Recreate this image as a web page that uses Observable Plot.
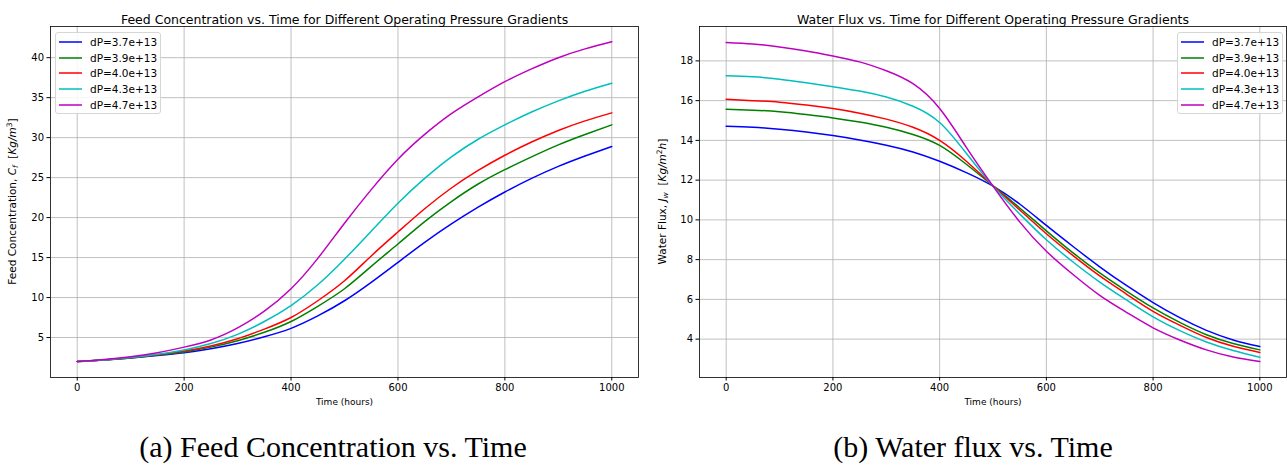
<!DOCTYPE html>
<html><head><meta charset="utf-8">
<script src="https://cdn.jsdelivr.net/npm/d3@7"></script>
<script src="https://cdn.jsdelivr.net/npm/@observablehq/plot@0.6"></script>
<style>
body{margin:0;background:#fff;width:1287px;height:468px;overflow:hidden;position:relative;font-family:"DejaVu Sans";}
#left{position:absolute;left:0;top:0}
#right{position:absolute;left:650px;top:0}
.cap{position:absolute;font-family:"Liberation Serif";font-size:30px;top:430px;transform:translateX(-50%);white-space:nowrap;color:#000}
.legend{position:absolute;border:1px solid #d6d6d6;border-radius:3px;background:rgba(255,255,255,0.85);box-sizing:border-box}
.row{position:absolute;left:0;height:14px;font-size:10.5px;line-height:14px;color:#000;white-space:nowrap}
.row svg{position:absolute;left:3px;top:0}
.row span{position:absolute;left:34px;top:0}
</style></head><body>
<div id="left"></div>
<div id="right"></div>
<div class="cap" style="left:333px">(a) Feed Concentration vs. Time</div>
<div class="cap" style="left:973px">(b) Water flux vs. Time</div>
<script>
// ---- data ----
const times = [0,50,100,150,200,250,300,350,400,450,500,550,600,650,700,750,800,850,900,950,1000];
const seriesLabels = ["dP=3.7e+13","dP=3.9e+13","dP=4.0e+13","dP=4.3e+13","dP=4.7e+13"];
const seriesColors = ["#0000ff","#008000","#ff0000","#00bfbf","#bf00bf"];

const feed37 = [2.0,2.2,2.45,2.75,3.1,3.6,4.25,5.1,6.15,7.7,9.6,11.9,14.4,16.9,19.2,21.3,23.2,24.9,26.4,27.7,28.9];
const feed39 = [2.0,2.2,2.45,2.8,3.2,3.8,4.6,5.65,7.0,8.9,11.1,13.9,16.7,19.5,22.0,24.2,26.0,27.6,29.1,30.4,31.6];
const feed40 = [2.0,2.2,2.5,2.85,3.3,3.95,4.85,6.05,7.5,9.6,12.1,15.2,18.2,21.1,23.7,25.9,27.8,29.45,30.9,32.1,33.1];
const feed43 = [2.0,2.2,2.5,2.9,3.45,4.25,5.4,7.0,9.0,11.6,14.8,18.3,21.8,24.9,27.6,29.8,31.6,33.2,34.6,35.8,36.8];
const feed47 = [2.0,2.25,2.6,3.1,3.8,4.7,6.2,8.3,11.1,14.9,19.3,23.5,27.3,30.4,33.0,35.1,37.0,38.6,40.0,41.1,42.0];

const flux37 = [14.71,14.66,14.56,14.42,14.24,14.02,13.76,13.42,12.95,12.38,11.7,10.8,9.72,8.66,7.64,6.7,5.84,5.08,4.44,3.96,3.63];
const flux39 = [15.57,15.52,15.44,15.3,15.13,14.92,14.66,14.3,13.75,12.8,11.72,10.6,9.45,8.34,7.33,6.42,5.57,4.84,4.22,3.78,3.46];
const flux40 = [16.07,16.0,15.92,15.78,15.6,15.37,15.07,14.66,14.0,12.95,11.72,10.5,9.3,8.2,7.18,6.27,5.4,4.7,4.08,3.64,3.33];
const flux43 = [17.25,17.2,17.08,16.9,16.7,16.48,16.18,15.72,14.9,13.35,11.7,10.3,9.0,7.88,6.87,5.97,5.12,4.43,3.86,3.43,3.09];
const flux47 = [18.93,18.85,18.7,18.5,18.25,17.95,17.5,16.85,15.6,13.65,11.7,9.9,8.42,7.25,6.2,5.35,4.57,3.96,3.46,3.1,2.87];

const xTicks = [0,200,400,600,800,1000];
const feedTicks = [5,10,15,20,25,30,35,40];
const fluxTicks = [4,6,8,10,12,14,16,18];

function tidy(arrs){
  const rows=[];
  arrs.forEach((a,k)=>a.forEach((v,i)=>rows.push({t:times[i],v,s:seriesLabels[k]})));
  return rows;
}
const feedRows = tidy([feed37,feed39,feed40,feed43,feed47]);
const fluxRows = tidy([flux37,flux39,flux40,flux43,flux47]);

function makePlot(rows, opts){
  return Plot.plot({
    width: opts.width, height: 410,
    marginLeft: opts.ml, marginRight: opts.mr, marginTop: 26, marginBottom: 33,
    style:{fontFamily:"DejaVu Sans", fontSize:"10px", color:"#000", background:"transparent"},
    x:{domain:[-50,1050]},
    y:{domain:opts.ydom},
    color:{domain:seriesLabels, range:seriesColors},
    marks:[
      Plot.gridX(xTicks,{stroke:"#b0b0b0",strokeOpacity:1,strokeWidth:0.8}),
      Plot.gridY(opts.yticks,{stroke:"#b0b0b0",strokeOpacity:1,strokeWidth:0.8}),
      Plot.line(rows,{x:"t",y:"v",z:"s",stroke:"s",strokeWidth:1.5,curve:"natural"}),
      Plot.frame({stroke:"#000",strokeWidth:0.8}),
      Plot.axisX({ticks:xTicks,tickSize:3.5,tickPadding:3,label:null,fontSize:10,tickFormat:d=>String(d)}),
      Plot.axisY({ticks:opts.yticks,tickSize:3.5,tickPadding:3,label:null,fontSize:10,tickFormat:d=>String(d)}),
      Plot.text([opts.title],{frameAnchor:"top",dy:-11,fontSize:12.5,fill:"#000"}),
      Plot.text(["Time (hours)"],{frameAnchor:"bottom",dy:27,fontSize:9,fill:"#000"})
    ]
  });
}

function addYLabel(svg, x, parts){
  const t = d3.select(svg).append("text")
    .attr("transform",`translate(${x},201.5) rotate(-90)`)
    .attr("text-anchor","middle").attr("font-size",10.5).attr("fill","#000")
    .attr("font-family","DejaVu Sans");
  parts.forEach(p=>{
    const s = t.append("tspan").text(p.t);
    if(p.i) s.attr("font-style","italic");
    if(p.sub) s.attr("font-size",7.5).attr("dy",2);
    if(p.sup) s.attr("font-size",7.5).attr("dy",-4);
    if(p.back) s.attr("dy",p.back);
  });
}

const left = makePlot(feedRows,{width:645,ml:50,mr:7,ydom:[0,43.9],yticks:feedTicks,
  title:"Feed Concentration vs. Time for Different Operating Pressure Gradients"});
document.getElementById("left").appendChild(left);
addYLabel(left,16,[{t:"Feed Concentration, "},{t:"C",i:true},{t:"f",i:true,sub:true},{t:"  [",back:-2},{t:"Kg/m",i:true},{t:"3",sup:true},{t:"]",back:4}]);

const right = makePlot(fluxRows,{width:637,ml:49,mr:1,ydom:[2.07,19.73],yticks:fluxTicks,
  title:"Water Flux vs. Time for Different Operating Pressure Gradients"});
document.getElementById("right").appendChild(right);
addYLabel(right,16,[{t:"Water Flux, "},{t:"J",i:true},{t:"w",i:true,sub:true},{t:"  [",back:-2},{t:"Kg/m",i:true},{t:"2",sup:true},{t:"h",i:true,back:4},{t:"]"}]);

function legend(x,y){
  const d = document.createElement("div");
  d.className="legend";
  d.style.left=x+"px"; d.style.top=y+"px"; d.style.width="106px"; d.style.height="82px";
  seriesLabels.forEach((lab,k)=>{
    const r=document.createElement("div"); r.className="row";
    r.style.top=(1.7+15.8*k)+"px";
    r.innerHTML=`<svg width="24" height="14"><line x1="0" x2="23" y1="7" y2="7" stroke="${seriesColors[k]}" stroke-width="1.5"/></svg><span>${lab}</span>`;
    d.appendChild(r);
  });
  document.body.appendChild(d);
}
legend(55,32);
legend(1177,32);
</script>
</body></html>
